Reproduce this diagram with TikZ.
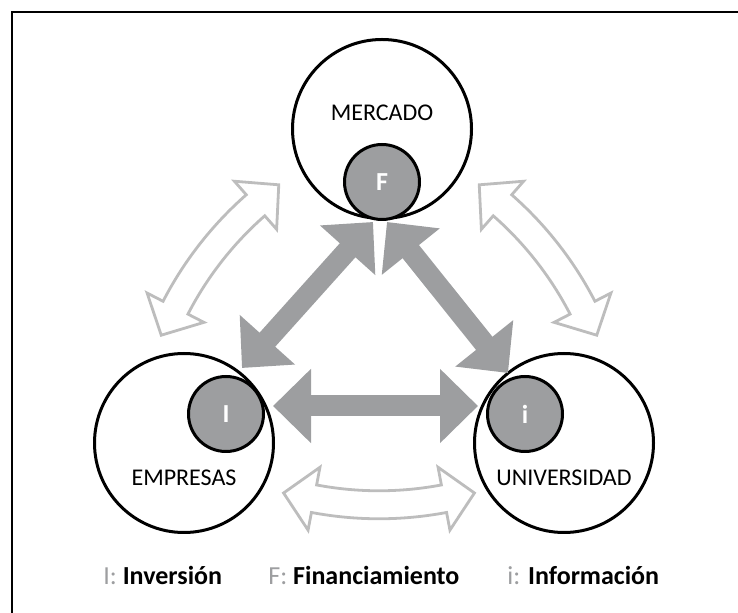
\documentclass[tikz,border=0pt]{standalone}
\usepackage{fontspec}
\setmainfont{Carlito}
\usetikzlibrary{arrows.meta, positioning, calc}

\definecolor{hubgray}{RGB}{157,158,160}
\definecolor{rimgray}{RGB}{189,189,189}

% hollow curved double arrow: chord middle, turn
\newcommand{\swaparc}[3]{%
  \begin{scope}[shift={(#1,#2)}, x=0.5pt, y=0.5pt, rotate=#3, shift={(0,338.2)}]
    \draw[hollow] (254.24:351.4) -- (259.3:382) -- (259.3:364)
      arc[start angle=259.3, end angle=280.7, radius=364]
      -- (280.7:382) -- (285.76:351.4) -- (280.7:318) -- (280.7:336)
      arc[start angle=280.7, end angle=259.3, radius=336]
      -- (259.3:318) -- cycle;
  \end{scope}}

\begin{document}
\begin{tikzpicture}[x=0.5pt, y=-0.5pt]
    % Styles
    \tikzstyle{ring} = [circle, draw, line width=1.5pt, fill=white, minimum size=89.5pt, inner sep=0pt]
    \tikzstyle{hub} = [circle, draw, line width=1.5pt, fill=hubgray, minimum size=37.5pt, inner sep=0pt,
                       text=white, font=\fontsize{13}{15}\selectfont\bfseries]
    \tikzstyle{ringtext} = [font=\fontsize{12}{14}\selectfont, inner sep=0pt]
    \tikzstyle{legend} = [font=\fontsize{13}{15}\selectfont, anchor=base west, inner sep=0pt]
    \tikzstyle{flow} = [hubgray, line width=10.5pt,
                        {Triangle[length=19pt, width=36pt]}-{Triangle[length=19pt, width=36pt]}]
    \tikzstyle{hollow} = [rimgray, line width=1.4pt, fill=white, line join=miter]

    \useasboundingbox (0,0) rectangle (738,613);
    \draw[line width=1.3pt] (12,12) rectangle (760,640);

    % Nodes
    \node[ring] (mercado) at (382,129) {};
    \node[ring] (empresas) at (184,443) {};
    \node[ring] (universidad) at (564,443) {};
    \node[ringtext] (tmercado) at ($(mercado)+(0,-16)$) {MERCADO};
    \node[ringtext] (tempresas) at ($(empresas)+(0,35)$) {EMPRESAS};
    \node[ringtext] (tuniversidad) at ($(universidad)+(0,35)$) {UNIVERSIDAD};
    \node[hub] (F) at (382,182) {F};
    \node[hub] (I) at (226,414) {I};
    \node[hub] (i) at (525,414) {i};

    % Connections
    \draw[flow] ($(F)+(-9,40)$) -- ($(I)+(16,-46)$);
    \draw[flow] ($(F)+(5,40)$) -- ($(i)+(-17,-41)$);
    \draw[flow] ($(I)+(47,-8)$) -- ($(i)+(-47,-8)$);

    \swaparc{379}{493}{0}
    \swaparc{220}{260}{-128}
    \swaparc{538}{260}{128}

    % Legend
    \node[legend] (legI) at (103,585) {\textcolor{hubgray}{I:} \textbf{Inversión}};
    \node[legend] (legF) at (268,585) {\textcolor{hubgray}{F:} \textbf{Financiamiento}};
    \node[legend] (legi) at (507,585) {\textcolor{hubgray}{i:} \textbf{Información}};
\end{tikzpicture}
\end{document}
